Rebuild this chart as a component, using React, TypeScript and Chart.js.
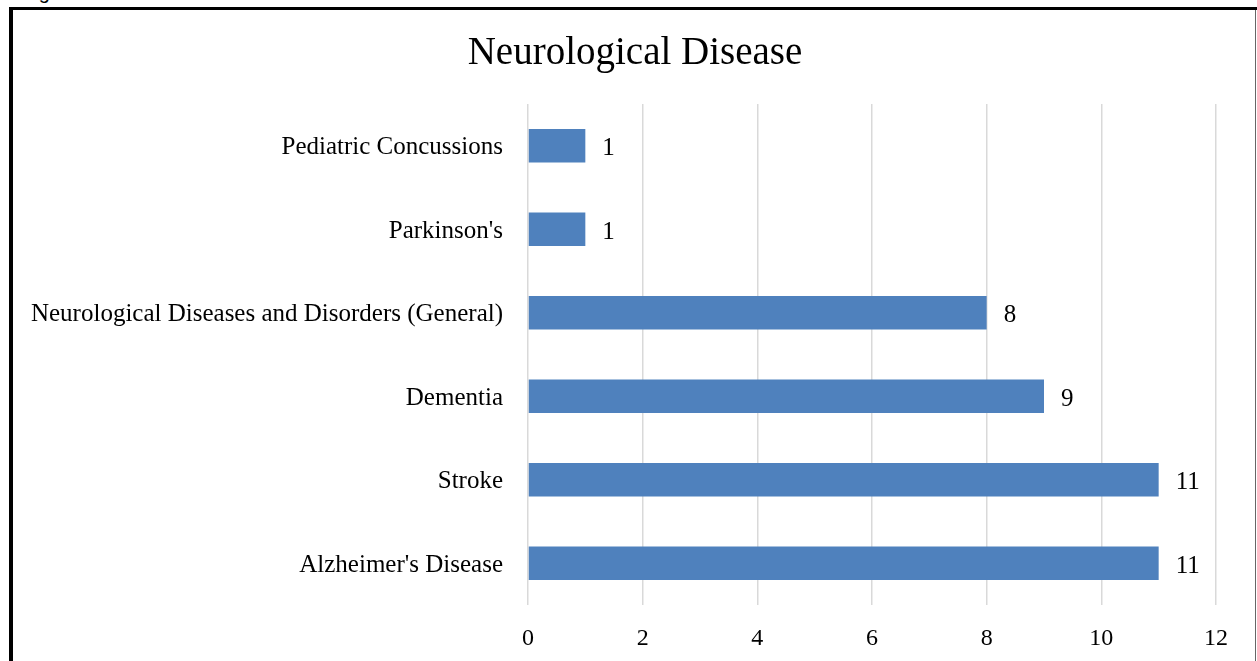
import React, { useEffect, useRef } from "react";
import { Chart, registerables } from "chart.js";

Chart.register(...registerables);

const chartTitle = "Neurological Disease";
const categories = [
  "Pediatric Concussions",
  "Parkinson's",
  "Neurological Diseases and Disorders (General)",
  "Dementia",
  "Stroke",
  "Alzheimer's Disease",
];
const counts = [1, 1, 8, 9, 11, 11];
const xTicks = [0, 2, 4, 6, 8, 10, 12];

const FONT = "'Liberation Serif', 'Times New Roman', serif";

const dataLabelPlugin = {
  id: "dataLabels",
  afterDatasetsDraw(chart: any) {
    const ctx = chart.ctx;
    const meta = chart.getDatasetMeta(0);
    ctx.save();
    ctx.font = `25px ${FONT}`;
    ctx.fillStyle = "#000000";
    ctx.textAlign = "left";
    ctx.textBaseline = "middle";
    meta.data.forEach((bar: any, i: number) => {
      ctx.fillText(String(counts[i]), bar.x + 17, bar.y + 3);
    });
    ctx.restore();
  },
};

const titlePlugin = {
  id: "customTitle",
  afterDraw(chart: any) {
    const ctx = chart.ctx;
    ctx.save();
    ctx.font = `39px ${FONT}`;
    ctx.fillStyle = "#000000";
    ctx.textAlign = "center";
    ctx.textBaseline = "alphabetic";
    ctx.fillText(chartTitle, 635, 64);
    ctx.restore();
  },
};

export default function App() {
  const canvasRef = useRef<HTMLCanvasElement | null>(null);

  useEffect(() => {
    if (!canvasRef.current) return;
    const chart = new Chart(canvasRef.current, {
      type: "bar",
      data: {
        labels: categories,
        datasets: [
          {
            data: counts,
            backgroundColor: "#4F81BD",
            borderWidth: 0,
            barPercentage: 0.4,
            categoryPercentage: 1,
          },
        ],
      },
      options: {
        indexAxis: "y",
        animation: false,
        responsive: false,
        devicePixelRatio: 1,
        layout: { padding: { left: 14, right: 41, top: 104, bottom: 7 } },
        plugins: {
          legend: { display: false },
          tooltip: { enabled: false },
          title: { display: false },
        },
        scales: {
          x: {
            min: 0,
            max: 12,
            afterBuildTicks(axis: any) {
              axis.ticks = xTicks.map((v) => ({ value: v }));
            },
            afterFit(axis: any) {
              axis.height = 49;
            },
            grid: { color: "#d9d9d9", lineWidth: 1.5, drawTicks: false },
            border: { display: false },
            ticks: {
              color: "#000000",
              font: { family: FONT, size: 24 },
              padding: 19,
              maxRotation: 0,
            },
          },
          y: {
            afterFit(axis: any) {
              axis.width = 514;
            },
            grid: { display: false },
            border: { display: false },
            ticks: {
              color: "#000000",
              font: { family: FONT, size: 25 },
              padding: 17,
              labelOffset: 2,
            },
          },
        },
      },
      plugins: [dataLabelPlugin, titlePlugin],
    });
    return () => chart.destroy();
  }, []);

  return (
    <div
      style={{
        position: "absolute",
        left: 0,
        top: 0,
        width: 1257,
        height: 661,
        overflow: "hidden",
        background: "#ffffff",
      }}
    >
      <div
        style={{
          position: "absolute",
          left: 22,
          top: -19,
          fontFamily: "'Liberation Sans', Arial, sans-serif",
          fontSize: 20,
          lineHeight: "22px",
          color: "#000",
        }}
      >
        Figure 5
      </div>
      <canvas
        ref={canvasRef}
        width={1257}
        height={661}
        style={{ position: "absolute", left: 0, top: 0 }}
      />
      <div style={{ position: "absolute", left: 9, top: 7, width: 4, height: 654, background: "#000" }} />
      <div style={{ position: "absolute", left: 9, top: 7, width: 1248, height: 3, background: "#000" }} />
      <div style={{ position: "absolute", left: 1255, top: 10, width: 1, height: 651, background: "#666" }} />
    </div>
  );
}
